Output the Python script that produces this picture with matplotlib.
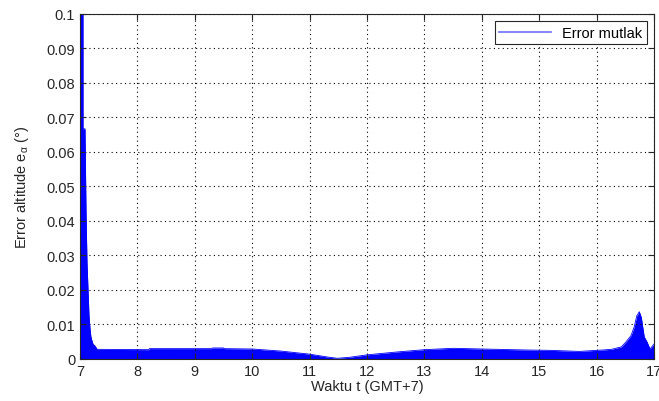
import numpy as np
import matplotlib.pyplot as plt

plt.rcParams['font.family'] = ['Liberation Sans', 'DejaVu Sans']
plt.rcParams['mathtext.fontset'] = 'custom'
plt.rcParams['mathtext.rm'] = 'Liberation Sans'
plt.rcParams['mathtext.it'] = 'Liberation Sans'

# time of day (hours, GMT+7) and upper envelope of the absolute altitude error (deg)
waktu = [7.0, 7.052, 7.053, 7.087, 7.105, 7.122, 7.14, 7.157, 7.175, 7.19, 7.21,
         7.227, 7.26, 7.30, 8.2, 8.21, 9.3, 9.31, 9.5, 9.51, 10.0, 10.5, 11.0,
         11.3, 11.48, 11.7, 12.0, 12.5, 13.0, 13.5, 14.0, 14.8, 15.2, 15.7,
         16.1, 16.26, 16.43, 16.51, 16.6, 16.655, 16.70, 16.744, 16.78, 16.80,
         16.83, 16.88, 16.93, 16.98, 17.0]
error_mutlak = [0.1, 0.1, 0.0667, 0.0667, 0.0426, 0.028, 0.020, 0.0125, 0.0087,
                0.0064, 0.0052, 0.0043, 0.0038, 0.0028, 0.0027, 0.003, 0.003,
                0.0032, 0.0032, 0.003, 0.0029, 0.0023, 0.0014, 0.0006, 0.0002,
                0.0005, 0.0012, 0.002, 0.0027, 0.0031, 0.0029, 0.0026, 0.0025,
                0.0022, 0.0026, 0.0028, 0.0035, 0.0049, 0.0068, 0.0093, 0.0125,
                0.0137, 0.0120, 0.0097, 0.0064, 0.0049, 0.0029, 0.0039, 0.0043]

xticks = list(range(7, 18))
yticks = [0, 0.01, 0.02, 0.03, 0.04, 0.05, 0.06, 0.07, 0.08, 0.09, 0.1]
ytick_labels = ['0', '0.01', '0.02', '0.03', '0.04', '0.05', '0.06', '0.07', '0.08', '0.09', '0.1']

fig = plt.figure(figsize=(6.59, 4.02), dpi=100)
ax = fig.add_axes([0.1214, 0.1045, 0.8710, 0.8582])

ax.fill_between(waktu, 0, error_mutlak, color='#0000ff', lw=0)
ax.plot(waktu, error_mutlak, color='#0000ff', lw=0.6, label='Error mutlak')

ax.set_xlim(7, 17)
ax.set_ylim(0, 0.1)
ax.set_xticks(xticks)
ax.set_yticks(yticks)
ax.set_yticklabels(ytick_labels)
ax.grid(True, color='black', linestyle=(0, (1, 3)), linewidth=0.8)
ax.tick_params(direction='in', top=True, right=True, labelsize=10.5,
               colors='#262626', length=4)
for s in ax.spines.values():
    s.set_color('#262626')
    s.set_linewidth(0.8)

ax.set_xlabel('Waktu t (GMT+7)', fontsize=10.5, color='#262626', labelpad=1)
ax.set_ylabel(r'Error altitude e$_{\alpha}$ (°)', fontsize=10.5,
              color='#262626', labelpad=11)

leg = ax.legend(loc='upper right', fontsize=10.5, fancybox=False,
                framealpha=1, borderaxespad=0.5, handlelength=3.5,
                borderpad=0.3)
leg.get_frame().set_edgecolor('#262626')
leg.get_frame().set_linewidth(0.8)
leg.get_lines()[0].set_color('#7070ff')
leg.get_lines()[0].set_linewidth(1.2)

fig.savefig('out.png', dpi=100)
